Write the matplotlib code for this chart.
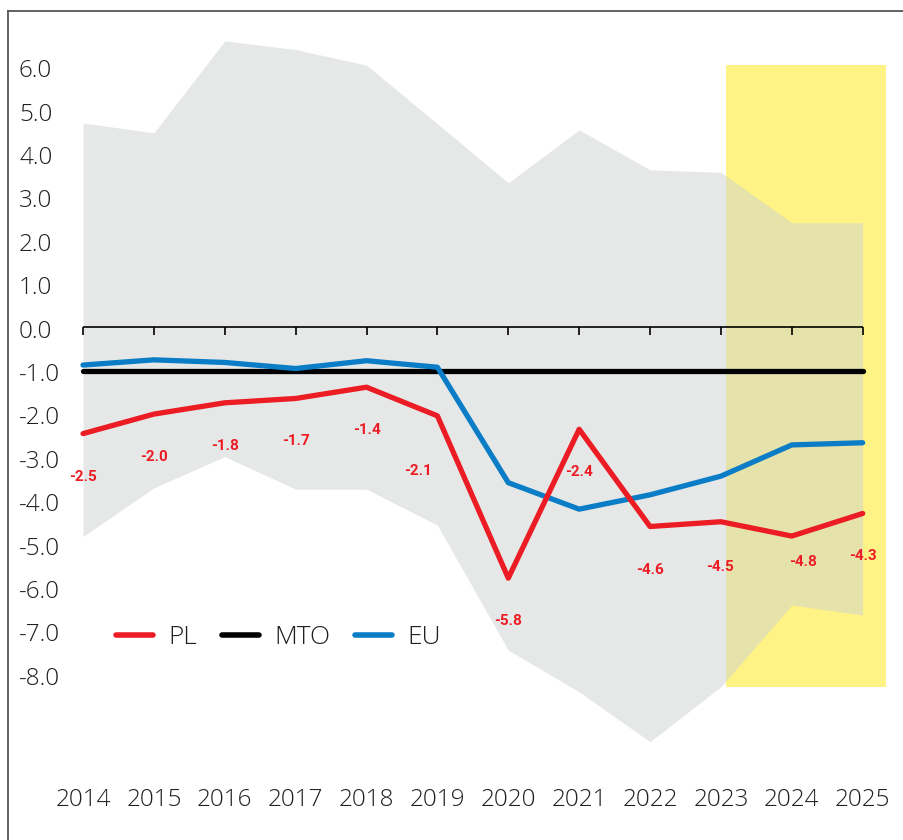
import matplotlib
matplotlib.use('Agg')
import matplotlib.pyplot as plt
from matplotlib.lines import Line2D
from matplotlib.patches import Rectangle
import numpy as np

years = [2014, 2015, 2016, 2017, 2018, 2019, 2020, 2021, 2022, 2023, 2024, 2025]
pl = [-2.45, -2.0, -1.74, -1.64, -1.38, -2.04, -5.78, -2.35, -4.59, -4.48, -4.81, -4.29]
pl_labels = ['-2.5', '-2.0', '-1.8', '-1.7', '-1.4', '-2.1', '-5.8', '-2.4', '-4.6', '-4.5', '-4.8', '-4.3']
mto = [-1.0] * 12
eu = [-0.87, -0.75, -0.81, -0.95, -0.77, -0.92, -3.58, -4.19, -3.86, -3.43, -2.71, -2.66]
band_hi = [4.71, 4.48, 6.6, 6.4, 6.04, 4.69, 3.33, 4.55, 3.63, 3.57, 2.41, 2.41]
band_lo = [-4.82, -3.70, -2.98, -3.73, -3.73, -4.56, -7.44, -8.40, -9.55, -8.28, -6.40, -6.63]
yticks = [6, 5, 4, 3, 2, 1, 0, -1, -2, -3, -4, -5, -6, -7, -8]
forecast = (2023.065, 2025.334, -8.29, 6.04)  # x0, x1, y0, y1

RED = '#ec1c24'
BLUE = '#0a7dc6'
TXT = '#231f20'
FONT = ['Open Sans', 'DejaVu Sans']

# label offsets in pixels (dx, dy)
lab_off = [(0, -43)] * 12
lab_off[5] = (-19, -55)
lab_off[9] = (-1, -45)
lab_off[10] = (11, -26)

fig = plt.figure(figsize=(9.04, 8.4), dpi=100)
ax = fig.add_axes([0, 0, 1, 1])
# pixel mapping: 2014 -> 83px, 2025 -> 862.7px; 0 -> 327.3px, 43.4 px per unit
xs = 70.88
ax.set_xlim(2014 - 83 / xs, 2014 + (904 - 83) / xs)
ax.set_ylim(327.3 / 43.4 - 840 / 43.4, 327.3 / 43.4)
ax.axis('off')

x0, x1, y0, y1 = forecast
ax.add_patch(Rectangle((x0, y0), x1 - x0, y1 - y0, color='#fff385', lw=0, zorder=1))
ax.fill_between(years, band_lo, band_hi, color='#cdd3d1', alpha=0.5, lw=0, zorder=2)

# zero axis with downward ticks
ax.hlines(0, years[0], years[-1], color='black', lw=1.2, zorder=3)
ax.vlines(years, -0.17, 0, color='black', lw=1.2, zorder=3)

ax.plot(years, mto, color='black', lw=3.8, solid_capstyle='round', zorder=4, label='MTO')
ax.plot(years, eu, color=BLUE, lw=3.8, solid_capstyle='round', zorder=5, label='EU')
ax.plot(years, pl, color=RED, lw=3.8, solid_capstyle='round', zorder=6, label='PL')

for x, y, s, (dx, dy) in zip(years, pl, pl_labels, lab_off):
    ax.annotate(s, (x, y), xytext=(dx, dy), textcoords='offset pixels',
                ha='center', va='center', color=RED, fontsize=11, fontweight='bold',
                family=['Roboto', 'DejaVu Sans'], zorder=7)

for v in yticks:
    ax.text(2014 - 64 / xs, v - 0.1, f'{v:.1f}', ha='left', va='center',
            fontsize=17.5, color=TXT, family=FONT, fontweight='light')

for yr in years:
    ax.text(yr, (327.3 - 800) / 43.4, str(yr), ha='center', va='center',
            fontsize=17.5, color=TXT, family=FONT, fontweight='light')

h = [Line2D([], [], color=RED, lw=4, solid_capstyle='round'),
     Line2D([], [], color='black', lw=4, solid_capstyle='round'),
     Line2D([], [], color=BLUE, lw=4, solid_capstyle='round')]
leg = fig.legend(h, ['PL', 'MTO', 'EU'], loc='center left', bbox_to_anchor=(116 / 904, 1 - 638 / 840),
                 ncol=3, frameon=False, borderpad=0, borderaxespad=0, handlelength=1.4,
                 handletextpad=0.58, columnspacing=0.95, prop={'family': FONT, 'size': 19, 'weight': 'light'})
for t in leg.get_texts():
    t.set_color(TXT)

# frame lines at top and left
fig.add_artist(Line2D([8 / 904, 1], [1 - 11 / 840, 1 - 11 / 840], color='#555555', lw=1.3))
fig.add_artist(Line2D([8 / 904, 8 / 904], [0, 1 - 11 / 840], color='#555555', lw=1.3))

fig.savefig('out.png', dpi=100)
